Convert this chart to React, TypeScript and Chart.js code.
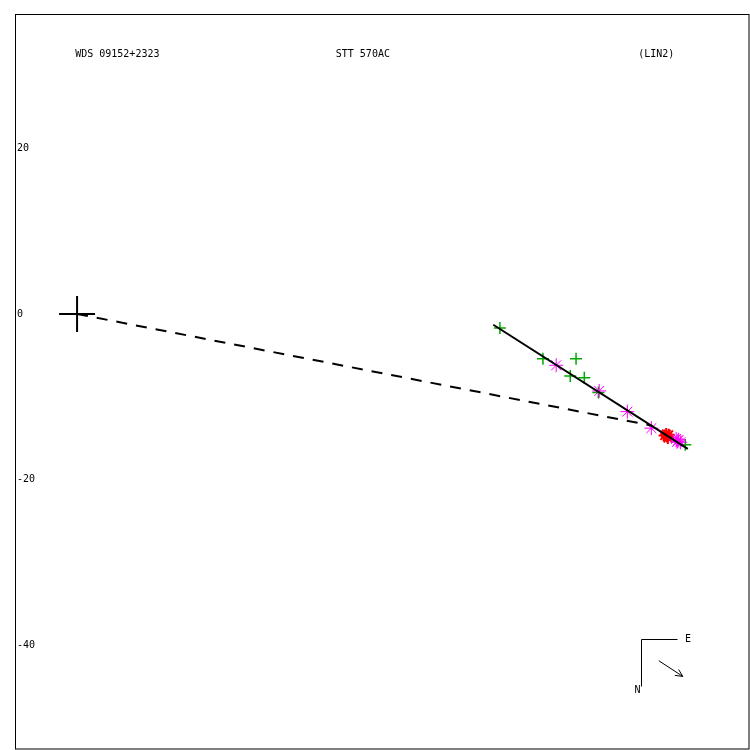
import React, { useEffect, useRef } from "react";
import { Chart, registerables } from "chart.js";

Chart.register(...registerables);

// ---- data ----
const xRange = [-7.5, 81.2];
const yRange = [-52.57, 36.25];
const yTicks = [-40, -20, 0, 20];

const titleLeft = "WDS 09152+2323";
const titleCenter = "STT 570AC";
const titleRight = "(LIN2)";

const originX = [0];
const originY = [0];

const greenX = [51.1, 56.3, 60.3, 59.6, 61.3, 63.0, 73.5];
const greenY = [-1.7, -5.4, -5.4, -7.5, -7.7, -9.5, -15.8];

const magentaX = [57.9, 63.1, 66.5, 69.4, 72.4, 72.6, 72.9, 72.7, 72.5];
const magentaY = [-6.2, -9.3, -11.8, -13.8, -15.1, -15.35, -15.5, -15.2, -15.45];

const redX = [71.0, 71.3, 71.5, 71.4, 71.2];
const redY = [-14.7, -14.8, -14.6, -15.0, -14.5];

const fitX = [50.3, 73.8];
const fitY = [-1.3, -16.3];

const dashX = [0, 69.5];
const dashY = [0, -13.5];

// compass (data units)
const compassCorner = [68.1, -39.3];
const compassEastLen = 4.4;
const compassNorthLen = 5.6;
const arrowFrom = [70.3, -41.9];
const arrowTo = [73.2, -43.8];

const zip = (xs: number[], ys: number[]) => xs.map((x, i) => ({ x, y: ys[i] }));

const FONT = "10px 'DejaVu Sans Mono', monospace";

const framePlugin = {
  id: "frameAndText",
  afterDraw(chart: any) {
    const { ctx, chartArea } = chart;
    const xs = chart.scales.x;
    const ys = chart.scales.y;
    ctx.save();
    ctx.strokeStyle = "#000";
    ctx.lineWidth = 1;
    ctx.strokeRect(
      chartArea.left + 0.5,
      chartArea.top + 0.5,
      chartArea.right - chartArea.left - 0.5,
      chartArea.bottom - chartArea.top - 0.5
    );
    ctx.fillStyle = "#000";
    ctx.font = FONT;
    ctx.textBaseline = "middle";

    // y tick labels (mirrored, inside the frame)
    ctx.textAlign = "left";
    for (const v of yTicks) {
      ctx.fillText(String(v), chartArea.left + 2, ys.getPixelForValue(v));
    }

    // titles
    const w = chartArea.right - chartArea.left;
    const ty = chartArea.top + 40;
    ctx.fillText(titleLeft, chartArea.left + 0.082 * w, ty);
    ctx.fillText(titleCenter, chartArea.left + 0.437 * w, ty);
    ctx.fillText(titleRight, chartArea.left + 0.849 * w, ty);

    // compass
    const cx = xs.getPixelForValue(compassCorner[0]);
    const cy = ys.getPixelForValue(compassCorner[1]);
    const ex = xs.getPixelForValue(compassCorner[0] + compassEastLen);
    const ny = ys.getPixelForValue(compassCorner[1] - compassNorthLen);
    ctx.beginPath();
    ctx.moveTo(Math.round(ex) + 0.5, Math.round(cy) + 0.5);
    ctx.lineTo(Math.round(cx) + 0.5, Math.round(cy) + 0.5);
    ctx.lineTo(Math.round(cx) + 0.5, Math.round(ny) + 0.5);
    ctx.stroke();
    ctx.textAlign = "left";
    ctx.fillText("E", ex + 8, cy);
    ctx.textAlign = "center";
    ctx.fillText("N", cx - 3, ny + 5);

    const ax0 = xs.getPixelForValue(arrowFrom[0]);
    const ay0 = ys.getPixelForValue(arrowFrom[1]);
    const ax1 = xs.getPixelForValue(arrowTo[0]);
    const ay1 = ys.getPixelForValue(arrowTo[1]);
    const ang = Math.atan2(ay1 - ay0, ax1 - ax0);
    ctx.beginPath();
    ctx.moveTo(ax0, ay0);
    ctx.lineTo(ax1, ay1);
    const hl = 8;
    ctx.moveTo(ax1 - hl * Math.cos(ang - 0.45), ay1 - hl * Math.sin(ang - 0.45));
    ctx.lineTo(ax1, ay1);
    ctx.lineTo(ax1 - hl * Math.cos(ang + 0.45), ay1 - hl * Math.sin(ang + 0.45));
    ctx.stroke();
    ctx.restore();
  },
};

export default function App() {
  const ref = useRef<HTMLCanvasElement | null>(null);
  useEffect(() => {
    if (!ref.current) return;
    const chart = new Chart(ref.current, {
      type: "scatter",
      data: {
        datasets: [
          {
            label: "fit",
            data: zip(fitX, fitY),
            showLine: true,
            borderColor: "#000",
            borderWidth: 2,
            pointRadius: 0,
          },
          {
            label: "dash",
            data: zip(dashX, dashY),
            showLine: true,
            borderColor: "#000",
            borderWidth: 2,
            borderDash: [11, 9],
            pointRadius: 0,
          },
          {
            label: "origin",
            data: zip(originX, originY),
            pointStyle: "cross",
            pointRadius: 18,
            borderColor: "#000",
            borderWidth: 2,
          },
          {
            label: "magenta",
            data: zip(magentaX, magentaY),
            pointStyle: "star",
            pointRadius: 7,
            borderColor: "#ff00ff",
            borderWidth: 1,
          },
          {
            label: "red",
            data: zip(redX, redY),
            pointStyle: "star",
            pointRadius: 6,
            borderColor: "#ff0000",
            borderWidth: 2,
          },
          {
            label: "green",
            data: zip(greenX, greenY),
            pointStyle: "cross",
            pointRadius: 6,
            borderColor: "#00a800",
            borderWidth: 1.5,
          },
        ],
      },
      options: {
        animation: false,
        responsive: false,
        maintainAspectRatio: false,
        layout: { autoPadding: false, padding: { left: 15, top: 14, right: 1, bottom: 1 } },
        plugins: {
          legend: { display: false },
          tooltip: { enabled: false },
          title: { display: false },
        },
        scales: {
          x: {
            type: "linear",
            min: xRange[0],
            max: xRange[1],
            display: false,
          },
          y: {
            type: "linear",
            min: yRange[0],
            max: yRange[1],
            display: false,
          },
        },
      },
      plugins: [framePlugin],
    });
    return () => chart.destroy();
  }, []);
  return (
    <div style={{ position: "absolute", left: 0, top: 0, width: 750, height: 750, background: "#fff" }}>
      <canvas ref={ref} width={750} height={750} />
    </div>
  );
}
